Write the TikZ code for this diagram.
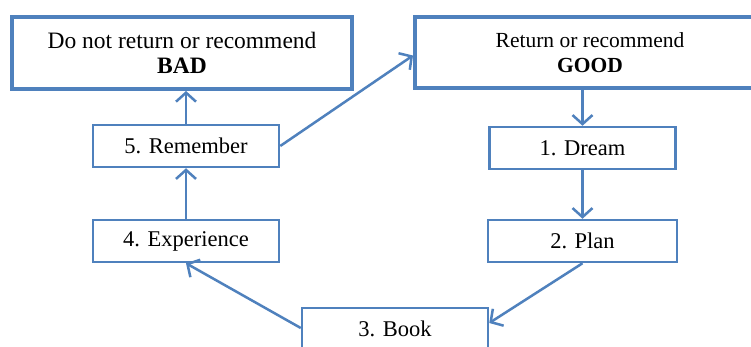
\documentclass[tikz,border=0pt]{standalone}
\usepackage{fontspec}
\setmainfont{Liberation Serif}
\usetikzlibrary{arrows.meta}
\definecolor{bl}{RGB}{79,129,189}
\begin{document}
\begin{tikzpicture}[x=1pt,y=-1pt,
  smallbox/.style={draw=bl, line width=2.5pt, fill=white, minimum width=186pt, minimum height=42pt, inner sep=0pt, font=\fontsize{22.5}{26}\selectfont},
  bigbox/.style={draw=bl, line width=4pt, fill=white, inner sep=0pt, align=center},
  arr/.style={draw=bl, line width=2.5pt, -{Straight Barb[length=9pt,width=20pt,line width=2.5pt]}}
]
\useasboundingbox (0,0) rectangle (751,347);
\clip (0,0) rectangle (751,347);
\fill[white] (0,0) rectangle (751,347);

\node[bigbox, minimum width=340pt, minimum height=72pt, font=\fontsize{23.5}{25}\selectfont] (bad) at (182,53)
  {Do not return or recommend\\\textbf{BAD}};
\node[bigbox, minimum width=350pt, minimum height=71pt, font=\fontsize{21.5}{25}\selectfont] (good) at (590,52.5)
  {Return or recommend\\\textbf{GOOD}};

\node[smallbox] (rem) at (186,146) {5. Remember};
\node[smallbox] (exp) at (186,241) {4. Experience};
\node[smallbox] (dream) at (582.5,148) {1. Dream};
\node[smallbox, minimum width=189pt] (plan) at (582.5,241) {2. Plan};
\node[smallbox] (book) at (395,329) {3. Book};

\draw[arr] (rem.north) -- (rem.north |- bad.south);
\draw[arr] (exp.north) -- (rem.south);
\draw[arr] (good.south -| dream.north) -- (dream.north);
\draw[arr] (dream.south) -- (plan.north);
\draw[arr] (plan.south) -- ([yshift=6pt]book.east);
\draw[arr] ([yshift=1pt]book.west) -- (exp.south);
\draw[arr] (rem.east) -- ([yshift=-3pt]good.west);
\end{tikzpicture}
\end{document}
